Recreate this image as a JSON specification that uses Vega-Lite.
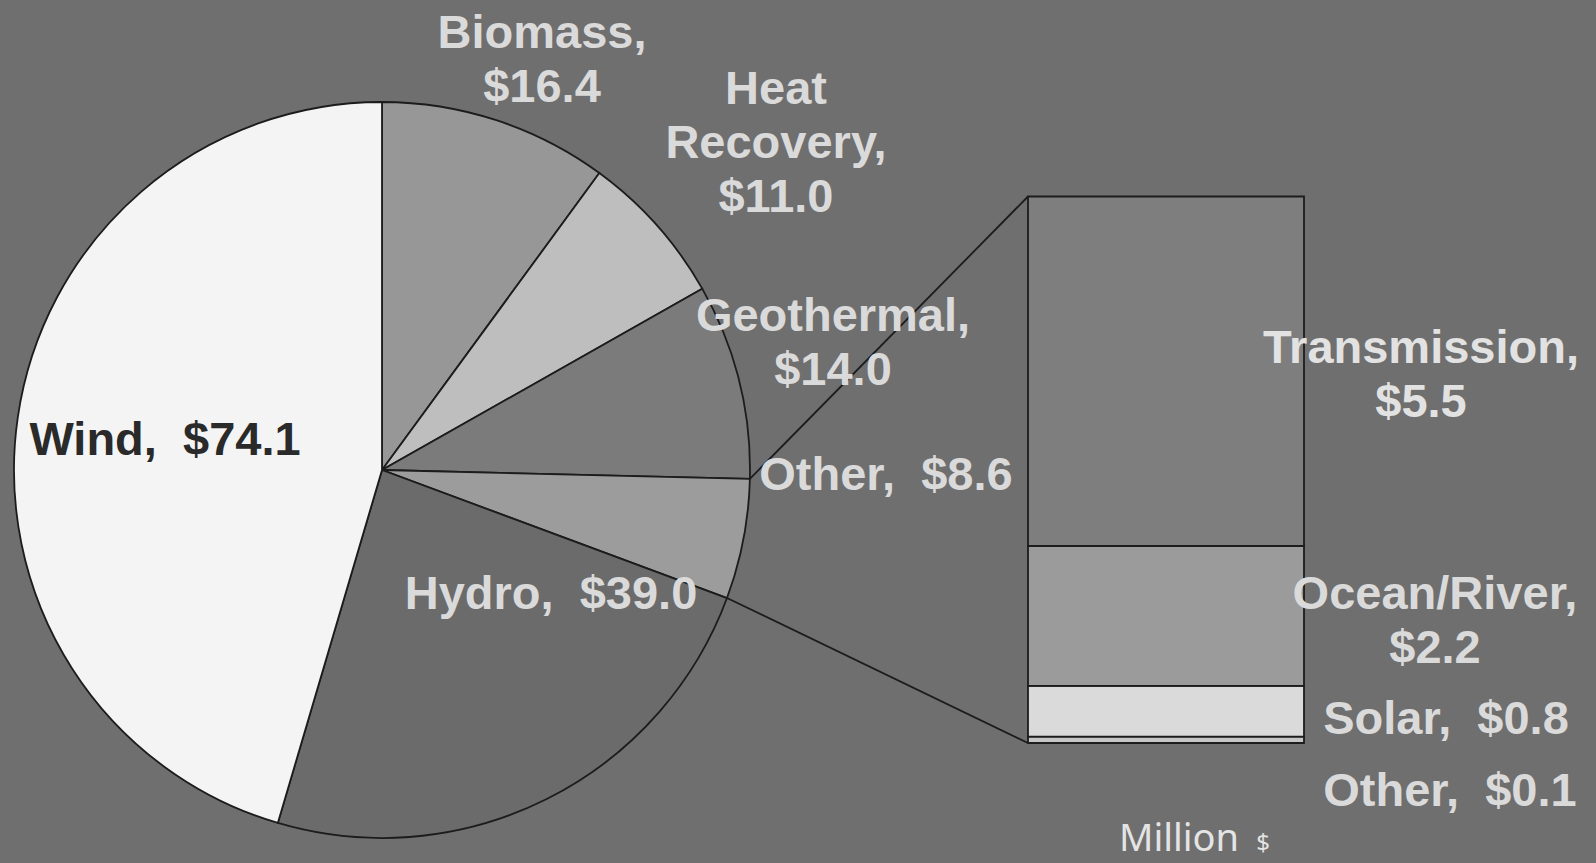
{
  "$schema": "https://vega.github.io/schema/vega-lite/v6.json",
  "width": 1596,
  "height": 863,
  "padding": 0,
  "autosize": {"type": "fit", "contains": "padding"},
  "background": "#6f6f6f",
  "config": {"view": {"stroke": null}},
  "datasets": {
    "pie": [
      {"cat": "Biomass", "value": 16.4, "o": 1, "label": "Biomass,\n$16.4"},
      {"cat": "Heat Recovery", "value": 11.0, "o": 2, "label": "Heat\nRecovery,\n$11.0"},
      {"cat": "Geothermal", "value": 14.0, "o": 3, "label": "Geothermal,\n$14.0"},
      {"cat": "Other", "value": 8.6, "o": 4, "label": "Other,\u00a0\u00a0$8.6"},
      {"cat": "Hydro", "value": 39.0, "o": 5, "label": "Hydro,\u00a0\u00a0$39.0"},
      {"cat": "Wind", "value": 74.1, "o": 6, "label": "Wind,\u00a0\u00a0$74.1"}
    ],
    "bar": [
      {"cat": "Other", "value": 0.1, "o": 1, "label": "Other,\u00a0\u00a0$0.1"},
      {"cat": "Solar", "value": 0.8, "o": 2, "label": "Solar,\u00a0\u00a0$0.8"},
      {"cat": "Ocean/River", "value": 2.2, "o": 3, "label": "Ocean/River,\n$2.2"},
      {"cat": "Transmission", "value": 5.5, "o": 4, "label": "Transmission,\n$5.5"}
    ]
  },
  "layer": [
    {
      "data": {"name": "pie"},
      "mark": {"type": "arc", "outerRadius": 368, "stroke": "#1c1c1c", "strokeWidth": 1.8},
      "encoding": {
        "theta": {"field": "value", "type": "quantitative", "stack": true},
        "order": {"field": "o", "type": "quantitative"},
        "color": {
          "field": "cat", "type": "nominal", "legend": null,
          "scale": {
            "domain": ["Biomass", "Heat Recovery", "Geothermal", "Other", "Hydro", "Wind"],
            "range": ["#979797", "#bebebe", "#7b7b7b", "#9c9c9c", "#6b6b6b", "#f4f4f4"]
          }
        },
        "x": {"datum": 382, "type": "quantitative", "scale": {"domain": [0, 1596], "nice": false, "zero": false}, "axis": null},
        "y": {"datum": 4.296, "type": "quantitative", "scale": {"domain": [-1.888, 11.692], "nice": false, "zero": false}, "axis": null}
      }
    },
    {
      "data": {"name": "bar"},
      "transform": [
        {"stack": "value", "groupby": [], "sort": [{"field": "o", "order": "ascending"}], "as": ["v0", "v1"]}
      ],
      "mark": {"type": "bar", "stroke": "#1c1c1c", "strokeWidth": 1.8},
      "encoding": {
        "x": {"datum": 1028, "type": "quantitative"},
        "x2": {"datum": 1304},
        "y": {"field": "v0", "type": "quantitative"},
        "y2": {"field": "v1"},
        "fill": {
          "field": "cat", "type": "nominal", "legend": null,
          "scale": {
            "domain": ["Transmission", "Ocean/River", "Solar", "Other"],
            "range": ["#7e7e7e", "#9b9b9b", "#dadada", "#c6c6c6"]
          }
        }
      }
    },
    {
      "data": {"values": [{}]},
      "mark": {"type": "rule", "stroke": "#1c1c1c", "strokeWidth": 1.8},
      "encoding": {
        "x": {"datum": 749.9, "type": "quantitative"},
        "y": {"datum": 4.156, "type": "quantitative"},
        "x2": {"datum": 1028},
        "y2": {"datum": 8.6}
      }
    },
    {
      "data": {"values": [{}]},
      "mark": {"type": "rule", "stroke": "#1c1c1c", "strokeWidth": 1.8},
      "encoding": {
        "x": {"datum": 727.0, "type": "quantitative"},
        "y": {"datum": 2.282, "type": "quantitative"},
        "x2": {"datum": 1028},
        "y2": {"datum": 0}
      }
    },
    {
      "data": {"name": "pie"},
      "transform": [{"filter": "datum.cat == 'Biomass'"}],
      "mark": {"type": "text", "font": "Liberation Sans", "fontWeight": "bold", "fontSize": 47, "lineHeight": 54, "lineBreak": "\n", "align": "center", "baseline": "middle", "fill": "#dadada"},
      "encoding": {"text": {"field": "label"}, "x": {"datum": 542, "type": "quantitative"}, "y": {"datum": 11.163, "type": "quantitative"}}
    },
    {
      "data": {"name": "pie"},
      "transform": [{"filter": "datum.cat == 'Heat Recovery'"}],
      "mark": {"type": "text", "font": "Liberation Sans", "fontWeight": "bold", "fontSize": 47, "lineHeight": 54, "lineBreak": "\n", "align": "center", "baseline": "middle", "fill": "#dadada"},
      "encoding": {"text": {"field": "label"}, "x": {"datum": 776, "type": "quantitative"}, "y": {"datum": 10.282, "type": "quantitative"}}
    },
    {
      "data": {"name": "pie"},
      "transform": [{"filter": "datum.cat == 'Geothermal'"}],
      "mark": {"type": "text", "font": "Liberation Sans", "fontWeight": "bold", "fontSize": 47, "lineHeight": 54, "lineBreak": "\n", "align": "center", "baseline": "middle", "fill": "#dadada"},
      "encoding": {"text": {"field": "label"}, "x": {"datum": 833, "type": "quantitative"}, "y": {"datum": 6.710, "type": "quantitative"}}
    },
    {
      "data": {"name": "pie"},
      "transform": [{"filter": "datum.cat == 'Other'"}],
      "mark": {"type": "text", "font": "Liberation Sans", "fontWeight": "bold", "fontSize": 47, "lineHeight": 54, "lineBreak": "\n", "align": "center", "baseline": "middle", "fill": "#dadada"},
      "encoding": {"text": {"field": "label"}, "x": {"datum": 886, "type": "quantitative"}, "y": {"datum": 4.20, "type": "quantitative"}}
    },
    {
      "data": {"name": "pie"},
      "transform": [{"filter": "datum.cat == 'Hydro'"}],
      "mark": {"type": "text", "font": "Liberation Sans", "fontWeight": "bold", "fontSize": 47, "lineHeight": 54, "lineBreak": "\n", "align": "center", "baseline": "middle", "fill": "#dadada"},
      "encoding": {"text": {"field": "label"}, "x": {"datum": 551, "type": "quantitative"}, "y": {"datum": 2.33, "type": "quantitative"}}
    },
    {
      "data": {"name": "pie"},
      "transform": [{"filter": "datum.cat == 'Wind'"}],
      "mark": {"type": "text", "font": "Liberation Sans", "fontWeight": "bold", "fontSize": 47, "lineHeight": 54, "lineBreak": "\n", "align": "center", "baseline": "middle", "fill": "#2a2a2a"},
      "encoding": {"text": {"field": "label"}, "x": {"datum": 165, "type": "quantitative"}, "y": {"datum": 4.752, "type": "quantitative"}}
    },
    {
      "data": {"name": "bar"},
      "transform": [{"filter": "datum.cat == 'Transmission'"}],
      "mark": {"type": "text", "font": "Liberation Sans", "fontWeight": "bold", "fontSize": 47, "lineHeight": 54, "lineBreak": "\n", "align": "center", "baseline": "middle", "fill": "#e2e2e2"},
      "encoding": {"text": {"field": "label"}, "x": {"datum": 1421, "type": "quantitative"}, "y": {"datum": 6.200, "type": "quantitative"}}
    },
    {
      "data": {"name": "bar"},
      "transform": [{"filter": "datum.cat == 'Ocean/River'"}],
      "mark": {"type": "text", "font": "Liberation Sans", "fontWeight": "bold", "fontSize": 47, "lineHeight": 54, "lineBreak": "\n", "align": "center", "baseline": "middle", "fill": "#dadada"},
      "encoding": {"text": {"field": "label"}, "x": {"datum": 1435, "type": "quantitative"}, "y": {"datum": 2.337, "type": "quantitative"}}
    },
    {
      "data": {"name": "bar"},
      "transform": [{"filter": "datum.cat == 'Solar'"}],
      "mark": {"type": "text", "font": "Liberation Sans", "fontWeight": "bold", "fontSize": 47, "lineHeight": 54, "lineBreak": "\n", "align": "center", "baseline": "middle", "fill": "#dadada"},
      "encoding": {"text": {"field": "label"}, "x": {"datum": 1446, "type": "quantitative"}, "y": {"datum": 0.36, "type": "quantitative"}}
    },
    {
      "data": {"name": "bar"},
      "transform": [{"filter": "datum.cat == 'Other'"}],
      "mark": {"type": "text", "font": "Liberation Sans", "fontWeight": "bold", "fontSize": 47, "lineHeight": 54, "lineBreak": "\n", "align": "center", "baseline": "middle", "fill": "#dadada"},
      "encoding": {"text": {"field": "label"}, "x": {"datum": 1450, "type": "quantitative"}, "y": {"datum": -0.77, "type": "quantitative"}}
    },
    {
      "data": {"values": [{"t": "Million"}]},
      "mark": {"type": "text", "font": "Noto Sans", "fontSize": 38, "align": "center", "baseline": "alphabetic", "fill": "#e4e4e4"},
      "encoding": {"text": {"field": "t"}, "x": {"datum": 1179, "type": "quantitative"}, "y": {"datum": -1.70, "type": "quantitative"}}
    },
    {
      "data": {"values": [{"t": "$"}]},
      "mark": {"type": "text", "font": "Noto Sans", "fontSize": 24, "align": "center", "baseline": "alphabetic", "fill": "#e4e4e4"},
      "encoding": {"text": {"field": "t"}, "x": {"datum": 1263, "type": "quantitative"}, "y": {"datum": -1.70, "type": "quantitative"}}
    }
  ]
}
